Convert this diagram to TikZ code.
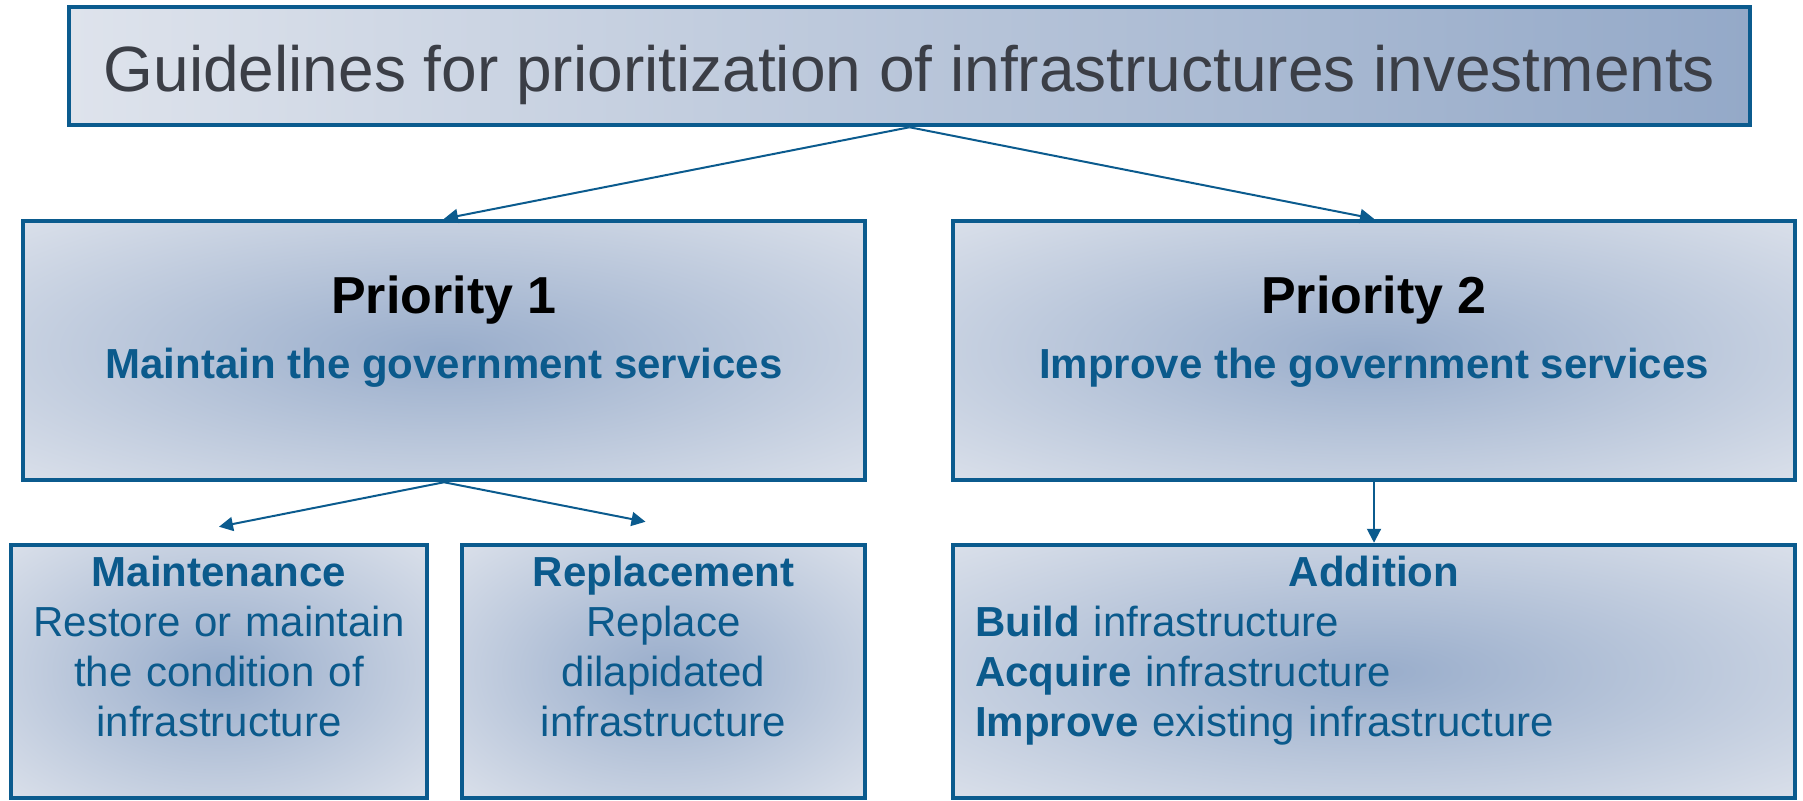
\documentclass[tikz,border=0pt]{standalone}
\usepackage{fontspec}
\setmainfont{Liberation Sans}
\usetikzlibrary{arrows.meta,positioning}

\definecolor{frameblue}{HTML}{0B5B8E}
\definecolor{inkblue}{HTML}{0B5A8C}
\definecolor{inkgray}{HTML}{3B3E46}
\definecolor{glowout}{HTML}{DEE3EC}
\definecolor{glowin}{HTML}{99ADCB}
\definecolor{titleend}{HTML}{94A9C8}

\pgfdeclareradialshading{glow}{\pgfpoint{0bp}{0bp}}{color(0bp)=(glowin); color(38bp)=(glowout); color(72bp)=(glowout)}

\begin{document}
\begin{tikzpicture}[x=1pt,y=-1pt,
  box/.style={draw=frameblue,line width=4.5pt,shade,shading=glow,inner sep=0pt},
  head/.style={anchor=base,inner sep=0pt,font=\fontsize{52}{62}\selectfont\bfseries},
  sub/.style={anchor=base,inner sep=0pt,text=inkblue,font=\fontsize{42}{50}\selectfont\bfseries},
  body/.style={anchor=base,inner sep=0pt,text=inkblue,align=center,font=\fontsize{42}{50}\selectfont},
  link/.style={frameblue,line width=2pt,-{Triangle[length=14pt,width=14pt]}}]
\useasboundingbox (0,0) rectangle (1803,800);

\node[box,left color=glowout,right color=titleend,minimum width=1681pt,minimum height=118pt,
  text=inkgray,text height=52pt,text depth=0pt,font=\fontsize{64}{76}\selectfont] (title) at (909.5,66)
  {Guidelines for prioritization of infrastructures investments};

% priorities
\node[box,minimum width=842pt,minimum height=259pt] (p1) at (444,350.5) {};
\node[box,minimum width=842pt,minimum height=259pt] (p2) at (1374,350.5) {};
\node[below=95pt of p1.north,head] (p1head) {Priority 1};
\node[below=95pt of p2.north,head] (p2head) {Priority 2};
\node[below=65pt of p1head.base,sub] (p1sub) {Maintain the government services};
\node[below=65pt of p2head.base,sub] (p2sub) {Improve the government services};

% actions
\node[box,minimum width=416pt,minimum height=253pt] (mnt) at (219,671.5) {};
\node[box,minimum width=403pt,minimum height=253pt] (rep) at (663.5,671.5) {};
\node[box,minimum width=842pt,minimum height=253pt] (add) at (1374,671.5) {};
\node[below=44pt of mnt.north,body,text width=400pt] (mnttext)
  {\textbf{Maintenance}\\Restore or maintain\\the condition of\\infrastructure};
\node[below=44pt of rep.north,body,text width=390pt] (reptext)
  {\textbf{Replacement}\\Replace\\dilapidated\\infrastructure};
\node[below=44pt of add.north,body,text width=798pt,align=left] (addtext)
  {\makebox[\linewidth]{\bfseries Addition}\\\textbf{Build} infrastructure\\\textbf{Acquire} infrastructure\\\textbf{Improve} existing infrastructure};

\coordinate[above=16pt of mnt.north] (mnttip);
\coordinate[above left=21pt and 18pt of rep.north] (reptip);
\draw[link] (title.south) -- (p1.north);
\draw[link] (title.south) -- (p2.north);
\draw[link] (p1.south) -- (mnttip);
\draw[link] (p1.south) -- (reptip);
\draw[link] (p2.south) -- (add.north);
\end{tikzpicture}
\end{document}
